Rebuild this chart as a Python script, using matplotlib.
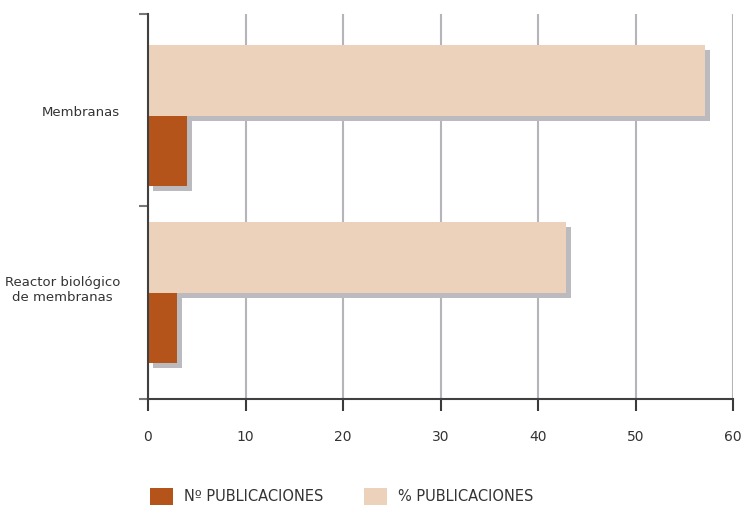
import matplotlib
matplotlib.use('Agg')
import matplotlib.pyplot as plt
import matplotlib.transforms as mtransforms
from matplotlib.patches import Patch

# datos
categorias = ['Membranas', 'Reactor biológico\nde membranas']
n_publicaciones = [4, 3]
pct_publicaciones = [57.1, 42.9]
series = ['Nº PUBLICACIONES', '% PUBLICACIONES']

col_n = '#b5541a'
col_pct = '#edd2bb'
col_sombra = '#bbbbbf'
col_txt = '#333333'

plt.rcParams['font.family'] = ['DejaVu Sans']

fig = plt.figure(figsize=(7.43, 5.05), dpi=100)
ax = fig.add_axes([148 / 743, 106 / 505, 585 / 743, 385.5 / 505])

# posiciones de los grupos (arriba Membranas)
centros = [1.47, 0.552]
h = 0.366
y_pct = [c + h / 2 for c in centros]
y_n = [c - h / 2 for c in centros]

sombra = mtransforms.offset_copy(ax.transData, fig=fig, x=3.7, y=-3.7, units='points')

# sombras
ax.barh(y_pct, pct_publicaciones, height=h, color=col_sombra, transform=sombra, zorder=2)
ax.barh(y_n, n_publicaciones, height=h, color=col_sombra, transform=sombra, zorder=2)
# barras
ax.barh(y_pct, pct_publicaciones, height=h, color=col_pct, zorder=3)
ax.barh(y_n, n_publicaciones, height=h, color=col_n, zorder=3)

ax.set_xlim(0, 60)
ax.set_ylim(0, 2)
ax.set_xticks(range(0, 61, 10))
ax.tick_params(axis='x', direction='out', length=8.5, width=1.5, color='#3a3a3a',
               pad=14, labelsize=10, labelcolor=col_txt)

ax.set_yticks([0, 1, 2])
ax.set_yticklabels([])
ax.tick_params(axis='y', which='major', direction='out', length=6.5, width=1.5, color='#777777')
ax.set_yticks([c + 0.025 for c in centros], minor=True)
ax.set_yticklabels(categorias, minor=True, multialignment='center')
ax.tick_params(axis='y', which='minor', length=0, pad=20, labelsize=9.5, labelcolor=col_txt)

ax.grid(axis='x', color='#b4b4ba', linewidth=1.5, zorder=0)
ax.set_axisbelow(True)
for s in ['top', 'right']:
    ax.spines[s].set_visible(False)
for s in ['left', 'bottom']:
    ax.spines[s].set_color('#404040')
    ax.spines[s].set_linewidth(1.5)
    ax.spines[s].set_zorder(4)

handles = [Patch(facecolor=col_n, edgecolor='none'), Patch(facecolor=col_pct, edgecolor='none')]
fig.legend(handles, series, loc='lower left', bbox_to_anchor=(150 / 743, 0.0), ncol=2,
           frameon=False, fontsize=10.5, handlelength=1.55, handleheight=1.45,
           handletextpad=0.75, columnspacing=2.85, labelcolor=col_txt,
           borderpad=0, borderaxespad=0)

fig.savefig('out.png', dpi=100)
